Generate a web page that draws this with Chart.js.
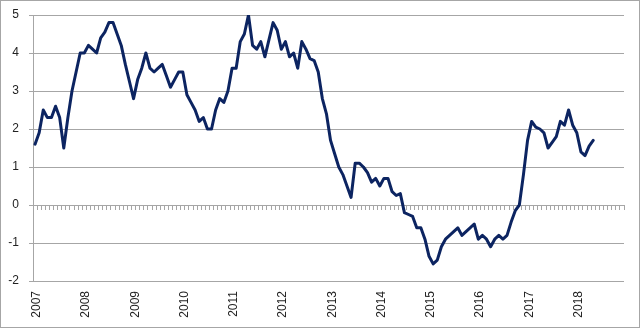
<!DOCTYPE html>
<html lang="pt-BR">
<head>
  <meta charset="UTF-8">
  <title>Série mensal 2007-2018</title>
  <script src="https://cdn.jsdelivr.net/npm/chart.js"></script>
  <style>
    body { margin: 0; background: #fff; }
    .quadro { position: relative; width: 640px; height: 328px; box-sizing: border-box; border: 1px solid #a6a6a6; }
    canvas { display: block; }
    .ano {
      position: absolute; writing-mode: vertical-rl; transform: translateX(-50%) rotate(180deg);
      font: 12px 'Liberation Sans', Arial, sans-serif; line-height: 14px; color: #222; white-space: nowrap;
    }
  </style>
</head>
<body>
  <div class="quadro" id="quadro"><canvas id="grafico" width="638" height="326"></canvas></div>

  <script>
    // rótulos do eixo x: um por ano, cada ano com 12 meses
    const anos = [2007, 2008, 2009, 2010, 2011, 2012, 2013, 2014, 2015, 2016, 2017, 2018];

    // valores mensais, jan/2007 a mai/2018
    const valores = [
      1.6, 1.9, 2.5, 2.3, 2.3, 2.6, 2.3, 1.5, 2.3, 3.0, 3.5, 4.0,        // 2007
      4.0, 4.2, 4.1, 4.0, 4.4, 4.55, 4.8, 4.8, 4.5, 4.2, 3.7, 3.25,      // 2008
      2.8, 3.3, 3.6, 4.0, 3.6, 3.5, 3.6, 3.7, 3.4, 3.1, 3.3, 3.5,        // 2009
      3.5, 2.9, 2.7, 2.5, 2.2, 2.3, 2.0, 2.0, 2.5, 2.8, 2.7, 3.0,        // 2010
      3.6, 3.6, 4.3, 4.5, 5.0, 4.2, 4.1, 4.3, 3.9, 4.35, 4.8, 4.6,       // 2011
      4.1, 4.3, 3.9, 4.0, 3.6, 4.3, 4.1, 3.85, 3.8, 3.5, 2.8, 2.4,       // 2012
      1.7, 1.35, 1.0, 0.8, 0.5, 0.2, 1.1, 1.1, 1.0, 0.85, 0.6, 0.7,      // 2013
      0.5, 0.7, 0.7, 0.35, 0.25, 0.3, -0.2, -0.25, -0.3, -0.6, -0.6, -0.9, // 2014
      -1.35, -1.55, -1.45, -1.1, -0.9, -0.8, -0.7, -0.6, -0.8, -0.7, -0.6, -0.5, // 2015
      -0.9, -0.8, -0.9, -1.1, -0.9, -0.8, -0.9, -0.8, -0.45, -0.15, 0.0, 0.8,  // 2016
      1.7, 2.2, 2.05, 2.0, 1.9, 1.5, 1.65, 1.8, 2.2, 2.1, 2.5, 2.1,      // 2017
      1.9, 1.4, 1.3, 1.55, 1.7                                           // 2018
    ];

    const yMin = -2, yMax = 5;
    const cinza = "#a6a6a6";

    const meses = [];
    anos.forEach(a => {
      for (let m = 1; m <= 12; m++) meses.push(a + "-" + String(m).padStart(2, "0"));
    });

    Chart.defaults.font.family = "'Liberation Sans', Arial, sans-serif";
    Chart.defaults.font.size = 12;
    Chart.defaults.color = "#222";

    // anos na vertical, abaixo do gráfico, na posição de janeiro de cada ano
    const rotulosAnos = {
      id: "rotulosAnos",
      afterDraw(chart) {
        const quadro = document.getElementById("quadro");
        quadro.querySelectorAll(".ano").forEach(el => el.remove());
        const x = chart.scales.x;
        anos.forEach((a, i) => {
          const el = document.createElement("span");
          el.className = "ano";
          el.textContent = a;
          el.style.left = (x.getPixelForValue(i * 12) + 1) + "px";
          el.style.top = (chart.chartArea.bottom + 10) + "px";
          quadro.appendChild(el);
        });
      }
    };

    new Chart(document.getElementById("grafico"), {
      type: "line",
      data: {
        labels: meses,
        datasets: [{
          data: valores,
          borderColor: "#0c2461",
          borderWidth: 3,
          borderJoinStyle: "round",
          borderCapStyle: "round",
          pointRadius: 0,
          tension: 0,
          xAxisID: "x",
          yAxisID: "y"
        }]
      },
      options: {
        responsive: false,
        animation: false,
        layout: { padding: { top: 14, right: 15, left: 0, bottom: 0 } },
        plugins: { legend: { display: false }, tooltip: { enabled: false } },
        scales: {
          x: {
            type: "category",
            offset: true,
            grid: { display: false, drawTicks: false },
            border: { display: false },
            ticks: { display: false },
            afterFit: s => { s.height = 46; s.paddingLeft = 0; s.paddingRight = 0; }
          },
          // eixo no zero, com as marcas de cada mês
          eixoZero: {
            type: "category",
            axis: "x",
            position: { y: 0 },
            offset: true,
            grid: { offset: true, drawOnChartArea: false, drawTicks: true, tickLength: 4, color: cinza },
            border: { color: cinza },
            ticks: { display: false },
            afterFit: s => { s.paddingLeft = 0; s.paddingRight = 0; }
          },
          y: {
            min: yMin,
            max: yMax,
            ticks: { stepSize: 1, padding: 10 },
            grid: { color: cinza, tickLength: 4 },
            border: { color: cinza },
            afterFit: s => { s.width = 32; s.paddingTop = 0; s.paddingBottom = 0; }
          }
        }
      },
      plugins: [rotulosAnos]
    });
  </script>
</body>
</html>
